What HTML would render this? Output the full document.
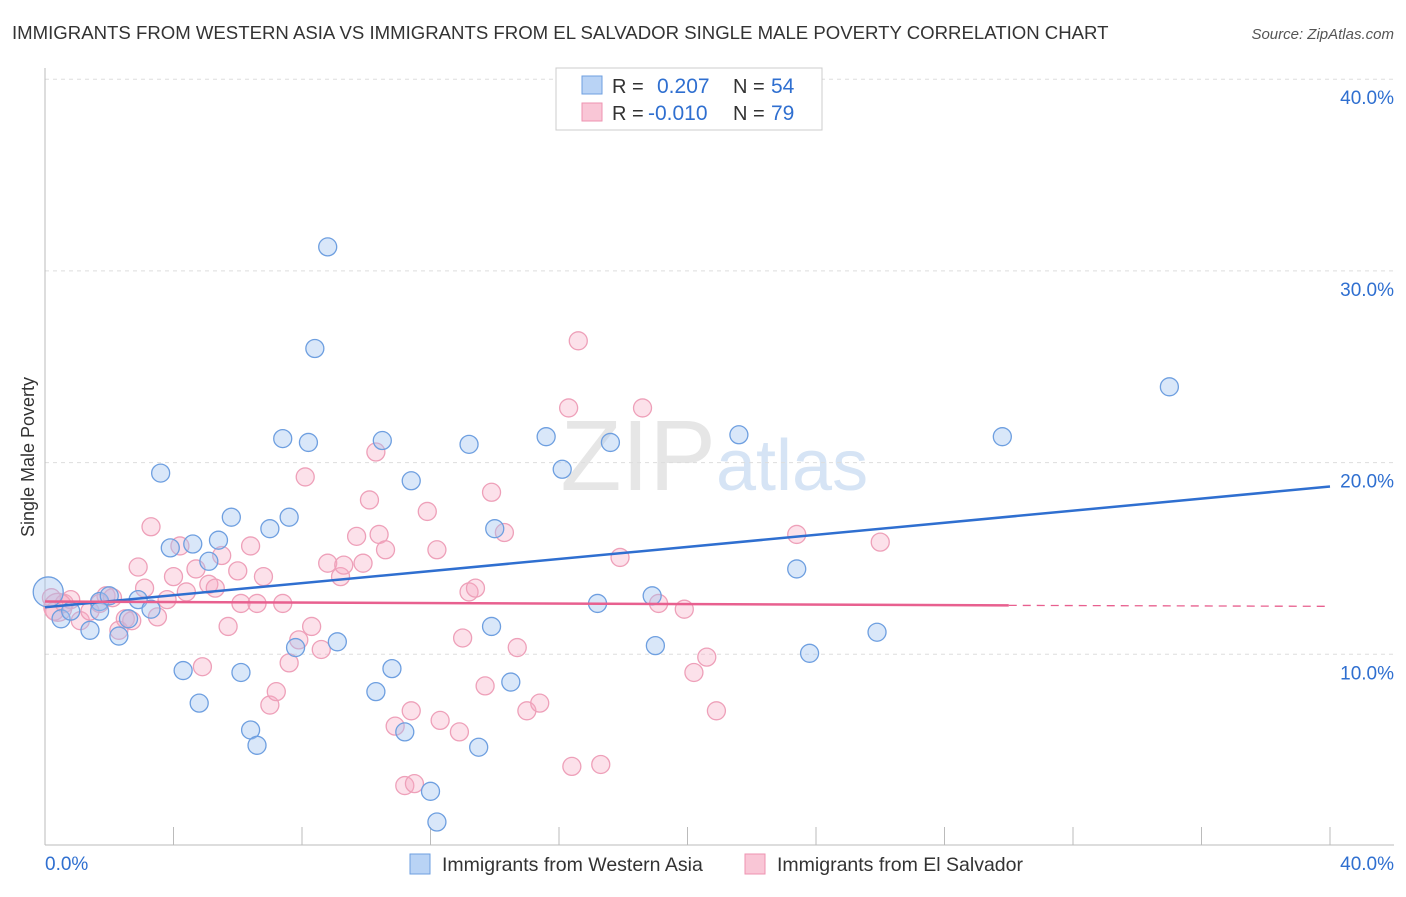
<!DOCTYPE html>
<html><head><meta charset="utf-8"><style>
body{margin:0;background:#fff;font-family:"Liberation Sans",sans-serif;}
svg text{font-family:"Liberation Sans",sans-serif;}
</style></head><body>
<svg id="c" width="1406" height="892">
<text x="12" y="39" font-size="18.6" fill="#333">IMMIGRANTS FROM WESTERN ASIA VS IMMIGRANTS FROM EL SALVADOR SINGLE MALE POVERTY CORRELATION CHART</text>
<text x="1394" y="39" font-size="15" fill="#555" text-anchor="end" font-style="italic">Source: ZipAtlas.com</text>
<text x="716" y="490" font-size="100" fill="#e6e6e6" text-anchor="end" font-family="Liberation Serif">ZIP</text>
<text x="716" y="490" font-size="72" fill="#d6e4f5">atlas</text>
<g id="grid"></g><g id="pts"></g><g id="lines"></g>
<text transform="translate(34,457) rotate(-90)" font-size="18" fill="#333" text-anchor="middle">Single Male Poverty</text>
<g>
<rect x="556" y="68" width="266" height="62" fill="#fff" stroke="#ccc"/>
<rect x="582" y="76" width="20" height="18" fill="#b9d3f5" stroke="#6e9fe0"/>
<rect x="582" y="103" width="20" height="18" fill="#f9c6d6" stroke="#ee93b0"/>
<text x="612" y="93" font-size="20" fill="#333">R =</text>
<text x="657" y="93" font-size="21" fill="#2f6fd0">0.207</text>
<text x="733" y="93" font-size="20" fill="#333">N =</text>
<text x="771" y="93" font-size="21" fill="#2f6fd0">54</text>
<text x="612" y="120" font-size="20" fill="#333">R =</text>
<text x="648" y="120" font-size="21" fill="#2f6fd0">-0.010</text>
<text x="733" y="120" font-size="20" fill="#333">N =</text>
<text x="771" y="120" font-size="21" fill="#2f6fd0">79</text>
</g>
<g>
<rect x="410" y="854" width="20" height="20" fill="#b9d3f5" stroke="#6e9fe0"/>
<text x="442" y="871" font-size="19.5" fill="#333">Immigrants from Western Asia</text>
<rect x="745" y="854" width="20" height="20" fill="#f9c6d6" stroke="#ee93b0"/>
<text x="777" y="871" font-size="19.5" fill="#333">Immigrants from El Salvador</text>
</g>
</svg>
<script>
const yTicks=[10,20,30,40];
const xTickLabels=["0.0%","40.0%"];
const blueX=[0.1,0.5,0.8,1.4,1.7,2.0,2.3,2.6,2.9,3.3,3.6,3.9,4.3,4.6,4.8,5.1,5.4,5.8,6.1,6.4,6.6,7.0,7.4,7.6,7.8,8.2,8.4,8.8,9.1,10.3,10.5,10.8,11.2,11.4,12.0,12.2,13.2,13.5,13.9,14.0,14.5,15.6,16.1,17.2,17.6,18.9,19.0,21.6,23.4,23.8,25.9,29.8,35.0,1.7];
const blueY=[13.2,11.8,12.2,11.2,12.7,13.0,10.9,11.8,12.8,12.3,19.4,15.5,9.1,15.7,7.4,14.8,15.9,17.1,9.0,6.0,5.2,16.5,21.2,17.1,10.3,21.0,25.9,31.2,10.6,8.0,21.1,9.2,5.9,19.0,2.8,1.2,20.9,5.1,11.4,16.5,8.5,21.3,19.6,12.6,21.0,13.0,10.4,21.4,14.4,10.0,11.1,21.3,23.9,12.2];
const pinkX=[0.2,0.3,0.6,0.8,1.1,1.4,1.7,1.9,2.1,2.3,2.5,2.7,2.9,3.1,3.3,3.5,3.8,4.0,4.2,4.4,4.7,4.9,5.1,5.3,5.5,5.7,6.0,6.1,6.4,6.6,6.8,7.0,7.2,7.4,7.6,7.9,8.1,8.3,8.6,8.8,9.2,9.3,9.7,9.9,10.1,10.3,10.4,10.6,10.9,11.2,11.4,11.5,11.9,12.2,12.3,12.9,13.0,13.2,13.4,13.7,13.9,14.3,14.7,15.0,15.4,16.3,16.4,16.6,17.3,17.9,18.6,19.1,19.9,20.2,20.6,20.9,23.4,26.0,0.4];
const pinkY=[12.9,12.2,12.6,12.8,11.7,12.2,12.6,13.0,12.9,11.2,11.8,11.7,14.5,13.4,16.6,11.9,12.8,14.0,15.6,13.2,14.4,9.3,13.6,13.4,15.1,11.4,14.3,12.6,15.6,12.6,14.0,7.3,8.0,12.6,9.5,10.7,19.2,11.4,10.2,14.7,14.0,14.6,16.1,14.7,18.0,20.5,16.2,15.4,6.2,3.1,7.0,3.2,17.4,15.4,6.5,5.9,10.8,13.2,13.4,8.3,18.4,16.3,10.3,7.0,7.4,22.8,4.1,26.3,4.2,15.0,22.8,12.6,12.3,9.0,9.8,7.0,16.2,15.8,12.4];
const blueLine=[12.4,18.7];
const pinkLine=[12.7,12.5,12.45];
const X=v=>45+v*32.125, Y=v=>845-v*19.17;
const NS="http://www.w3.org/2000/svg";
function mk(t,a,p){const e=document.createElementNS(NS,t);for(const k in a)e.setAttribute(k,a[k]);p.appendChild(e);return e;}
const g=document.getElementById('grid');
yTicks.forEach(t=>{
 const l=mk('line',{x1:45,x2:1394,y1:Y(t)+1,y2:Y(t)+1,stroke:'#ddd','stroke-dasharray':'4,4'},g);
 
 
 const tx=mk('text',{x:1394,y:Y(t)+26,'font-size':19,fill:'#2f6fd0','text-anchor':'end'},g);
 tx.textContent=t.toFixed(1)+'%';
 
 
});
mk('line',{x1:45,x2:45,y1:68,y2:845,stroke:'#bbb'},g);
mk('line',{x1:45,x2:1394,y1:845,y2:845,stroke:'#bbb'},g);
for(let i=0;i<=10;i++){mk('line',{x1:X(i*4),x2:X(i*4),y1:827,y2:845,stroke:'#bbb'},g);}
const xl1=mk('text',{x:45,y:870,'font-size':19,fill:'#2f6fd0'},g);xl1.textContent=xTickLabels[0];


const xl2=mk('text',{x:1394,y:870,'font-size':19,fill:'#2f6fd0','text-anchor':'end'},g);xl2.textContent=xTickLabels[1];


const p=document.getElementById('pts');
pinkX.forEach((x,i)=>{const c=mk('circle',{cx:X(x),cy:Y(pinkY[i]),r:i==78?14:9,fill:'rgba(246,170,195,0.35)',stroke:'#eea0b9','stroke-width':1.3},p);
 
 });
blueX.forEach((x,i)=>{const c=mk('circle',{cx:X(x),cy:Y(blueY[i]),r:i==0?15:9,fill:'rgba(160,195,240,0.4)',stroke:'#6e9fe0','stroke-width':1.3},p);
 
 });
const L=document.getElementById('lines');
const b=mk('line',{x1:X(0),y1:Y(blueLine[0]),x2:X(40),y2:Y(blueLine[1]),stroke:'#2f6fd0','stroke-width':2.5},L);


const pk=mk('line',{x1:X(0),y1:Y(pinkLine[0]),x2:X(30),y2:Y(pinkLine[1]),stroke:'#e8608f','stroke-width':2.5},L);


const pd=mk('line',{x1:X(30),y1:Y(pinkLine[1]),x2:X(40),y2:Y(pinkLine[2]),stroke:'#e8608f','stroke-width':1.3,'stroke-dasharray':'8,6'},L);


</script>
</body></html>
